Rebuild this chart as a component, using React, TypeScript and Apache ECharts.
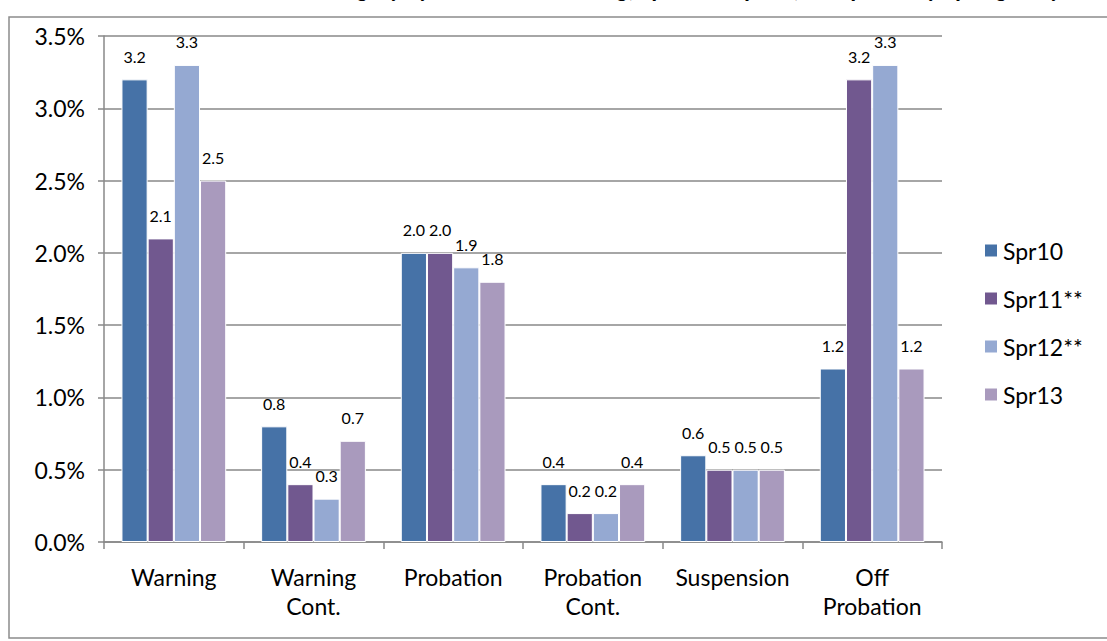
import React, { useEffect, useRef } from "react";
import * as echarts from "echarts";

const categories = ["Warning", "Warning\nCont.", "Probation", "Probation\nCont.", "Suspension", "Off\nProbation"];
const seriesNames = ["Spr10", "Spr11**", "Spr12**", "Spr13"];
const spr10 = [3.2, 0.8, 2.0, 0.4, 0.6, 1.2];
const spr11 = [2.1, 0.4, 2.0, 0.2, 0.5, 3.2];
const spr12 = [3.3, 0.3, 1.9, 0.2, 0.5, 3.3];
const spr13 = [2.5, 0.7, 1.8, 0.4, 0.5, 1.2];
const colors = ["#4672A7", "#71588F", "#95A9D2", "#A99ABD"];
const titleText = "Students in Each Category by Academic Standing, Spr10 to Spr13, Compared by Spring Only";

export default function App() {
  const ref = useRef<HTMLDivElement>(null);
  useEffect(() => {
    if (!ref.current) return;
    const chart = echarts.init(ref.current, undefined, { renderer: "svg" });
    const font = "Lato, 'Open Sans', sans-serif";
    const all = [spr10, spr11, spr12, spr13];
    chart.setOption({
      animation: false,
      backgroundColor: "#ffffff",
      textStyle: { fontFamily: font },
      graphic: [
        {
          type: "rect",
          shape: { x: 9, y: 17, width: 1120, height: 621 },
          style: { fill: "none", stroke: "#8c8c8c", lineWidth: 1.5 },
          silent: true,
          z: -1,
        },
        {
          type: "text",
          x: 600,
          y: -1,
          style: {
            text: titleText,
            font: "italic bold 24px " + font,
            fill: "#000",
            align: "center",
            verticalAlign: "bottom",
          },
        },
      ],
      legend: {
        orient: "vertical",
        left: 978,
        top: 234,
        itemWidth: 14,
        itemHeight: 14,
        itemGap: 25,
        icon: "rect",
        textStyle: { fontSize: 23, color: "#000", fontFamily: font },
        data: seriesNames,
      },
      grid: { left: 104, right: 165, top: 36, bottom: 99 },
      xAxis: {
        type: "category",
        data: categories,
        axisLine: { lineStyle: { color: "#888", width: 1.5 } },
        axisTick: { show: true, length: 7, lineStyle: { color: "#888", width: 1.5 } },
        axisLabel: { fontSize: 23, color: "#000", margin: 20, lineHeight: 29, interval: 0 },
      },
      yAxis: {
        type: "value",
        min: 0,
        max: 3.5,
        interval: 0.5,
        axisLine: { show: true, lineStyle: { color: "#888", width: 1.5 } },
        axisTick: { show: true, length: 6, lineStyle: { color: "#888", width: 1.5 } },
        splitLine: { lineStyle: { color: "#888", width: 1.5 } },
        axisLabel: {
          fontSize: 23,
          color: "#000",
          margin: 19,
          formatter: (v: number) => v.toFixed(1) + "%",
        },
      },
      series: seriesNames.map((name, i) => ({
        name,
        type: "bar",
        data: all[i],
        barGap: "0%",
        barCategoryGap: "25%",
        itemStyle: { color: colors[i], borderColor: "#ffffff", borderWidth: 1 },
        label: {
          show: true,
          position: "top",
          distance: 15,
          fontSize: 16,
          color: "#000",
          formatter: (p: any) => Number(p.value).toFixed(1),
        },
      })),
    });
    return () => chart.dispose();
  }, []);
  return (
    <div
      ref={ref}
      style={{ position: "fixed", left: 0, top: 0, width: 1107, height: 641 }}
    />
  );
}
